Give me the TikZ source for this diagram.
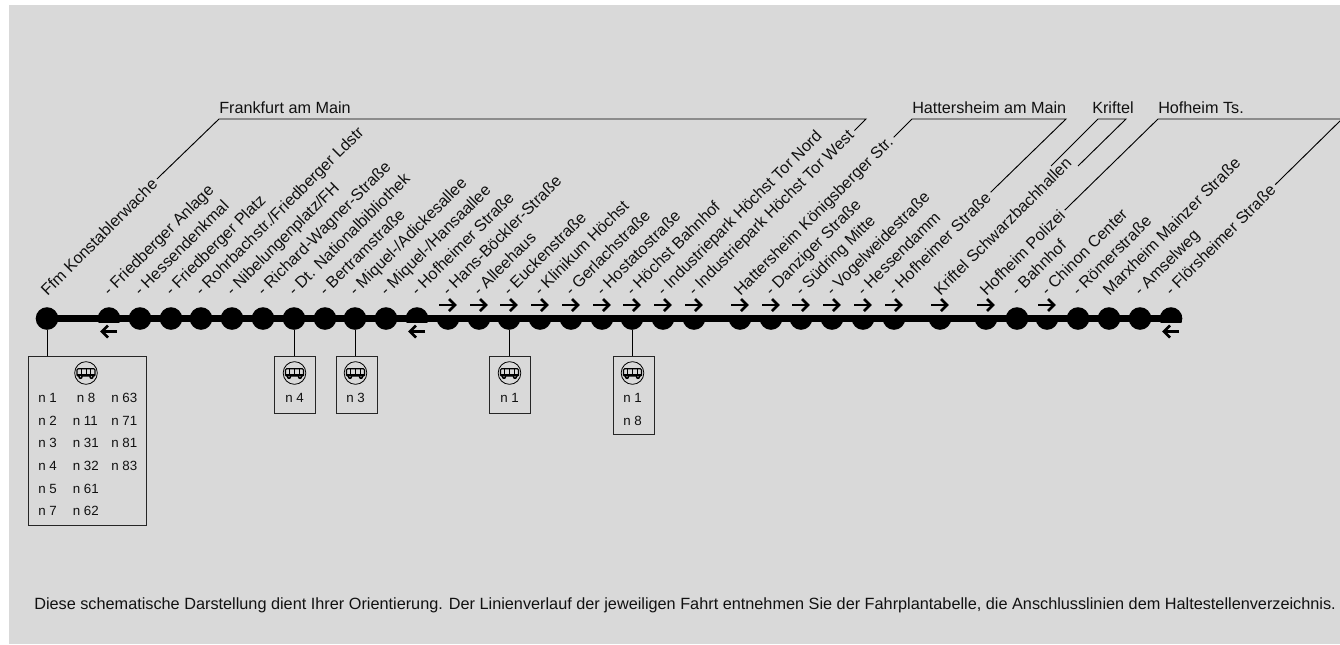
\documentclass[tikz,border=0pt]{standalone}
\usepackage{fontspec}
\setmainfont{Liberation Sans}
\definecolor{bgc}{HTML}{D9D9D9}
\definecolor{ink}{HTML}{111111}
\newcommand{\sz}[1]{\fontsize{#1}{#1}\selectfont}
\tikzset{
  stopdot/.style={circle,fill=black,inner sep=0pt,minimum size=16.95pt},
  stoplabel/.style={rotate=45,anchor=base west,inner sep=0pt,font=\sz{12.15pt},text=ink},
  regionlabel/.style={anchor=base west,inner sep=0pt,font=\sz{12.15pt},text=ink},
  linetxt/.style={anchor=base west,inner sep=0pt,font=\sz{10pt},text=ink},
  leader/.style={draw=black,line width=0.7pt,line join=miter},
  bracket/.style={leader,shorten <=2.5pt,shorten >=2.5pt},
  busbox/.style={draw=black!85,line width=0.8pt,inner sep=0pt,anchor=north west},
  dirarrow/.style={draw=black,line width=1.9pt},
  busicon/.pic={
    \draw[black,line width=0.6pt] (0,0) circle (8.5pt);
    \draw[black,line width=0.9pt,rounded corners=0.8pt] (-9,-4.2) rectangle (9,3);
    \fill[black] (-9,0.8) rectangle (9,3);
    \draw[black,line width=0.5pt] (-4.8,-4) -- (-4.8,1) (0,-4) -- (0,1) (4.8,-4) -- (4.8,1);
    \fill[black] (-5.5,3.8) circle (1.7pt) (5.5,3.8) circle (1.7pt);
    \fill[bgc] (-5.5,3.8) circle (0.5pt) (5.5,3.8) circle (0.5pt);
  },
}
\begin{document}
\begin{tikzpicture}[x=0.75pt,y=-0.75pt]
\useasboundingbox (0,0) rectangle (1340,644);
\fill[bgc] (9,5) rectangle (1340,644);

% stop labels
\foreach \i/\x/\t in {
 1/47/{Ffm Konstablerwache},
 2/109/{- Friedberger Anlage},
 3/140/{- Hessendenkmal},
 4/171/{- Friedberger Platz},
 5/201/{- Rohrbachstr./Friedberger Ldstr},
 6/232/{- Nibelungenplatz/FH},
 7/263/{- Richard-Wagner-Straße},
 8/294/{- Dt. Nationalbibliothek},
 9/325/{- Bertramstraße},
 10/355/{- Miquel-/Adickesallee},
 11/386/{- Miquel-/Hansaallee},
 12/417/{- Hofheimer Straße},
 13/448/{- Hans-Böckler-Straße},
 14/479/{- Alleehaus},
 15/509/{- Euckenstraße},
 16/540/{- Klinikum Höchst},
 17/571/{- Gerlachstraße},
 18/602/{- Hostatostraße},
 19/632/{- Höchst Bahnhof},
 20/663/{- Industriepark Höchst Tor Nord},
 21/694/{- Industriepark Höchst Tor West},
 22/740/{Hattersheim Königsberger Str.},
 23/771/{- Danziger Straße},
 24/801/{- Südring Mitte},
 25/832/{- Vogelweidestraße},
 26/863/{- Hessendamm},
 27/894/{- Hofheimer Straße},
 28/940/{Kriftel Schwarzbachhallen},
 29/986/{Hofheim Polizei},
 30/1017/{- Bahnhof},
 31/1047/{- Chinon Center},
 32/1078/{- Römerstraße},
 33/1109/{Marxheim Mainzer Straße},
 34/1140/{- Amselweg},
 35/1171/{- Flörsheimer Straße}}
 {\node[stoplabel] (l\i) at (\x+0.5,296.5) {\t};}

% region labels
\node[regionlabel] (fra) at (219,113.5) {Frankfurt am Main};
\node[regionlabel] (hat) at (912,113.5) {Hattersheim am Main};
\node[regionlabel] (kri) at (1092,113.5) {Kriftel};
\node[regionlabel] (hof) at (1158,113.5) {Hofheim Ts.};

% leaders
\coordinate (fraL) at (219,119);
\coordinate (fraR) at (866,119);
\coordinate (hatL) at (912,119);
\coordinate (hatR) at (1066,119);
\coordinate (kriL) at (1098,119);
\coordinate (kriR) at (1126,119);
\coordinate (kriA) at (1051,166);
\coordinate (kriB) at (1078,166);
\coordinate (hofL) at (1158,119);
\coordinate (hofR) at (1342,119);
\draw[bracket] (l1.east) -- (fraL) -- (fraR) -- (l21.east);
\draw[bracket] (l22.east) -- (hatL) -- (hatR) -- (l27.east);
\draw[leader] (kriA) -- (kriL) -- (kriR) -- (kriB);
\draw[bracket] (l29.east) -- (hofL) -- (hofR) -- (l35.east);

% stops
\foreach \i/\x in {1/47,3/140,4/171,5/201,6/232,7/263,8/294,9/325,10/355,11/386,30/1017,32/1078,33/1109,34/1140}
 {\node[stopdot] (s\i) at (\x,318.5) {};}
\foreach \i/\x in {13/448,14/479,15/509,16/540,17/571,18/602,19/632,20/663,21/694,22/740,23/771,24/801,25/832,26/863,27/894,28/940,29/986,31/1047}
 {\begin{scope}
   \clip (\x-13,315) rectangle (\x+13,332);
   \node[stopdot] (s\i) at (\x,318.5) {};
  \end{scope}
  \draw[dirarrow] (\x-9,305) -- (\x+6,305);
  \draw[dirarrow] (\x+1,299) -- (\x+7,305) -- (\x+1,311);}
\foreach \i/\x in {2/109,12/417,35/1171}
 {\begin{scope}
   \clip (\x-13,305) rectangle (\x+13,322);
   \node[stopdot] (s\i) at (\x,318.5) {};
  \end{scope}
  \draw[dirarrow] (\x+8,331.5) -- (\x-6,331.5);
  \draw[dirarrow] (\x-1,325.5) -- (\x-7,331.5) -- (\x-1,337.5);}
\fill[black] (s1.center) ++(0,-3.5) rectangle (1182,322);

% bus boxes
\node[busbox,minimum width=88.5pt,minimum height=126.75pt] (b1) at (28,356) {};
\node[busbox,minimum width=31pt,minimum height=42.75pt] (b2) at (274,356) {};
\node[busbox,minimum width=31pt,minimum height=42.75pt] (b3) at (335.5,356) {};
\node[busbox,minimum width=31pt,minimum height=42.75pt] (b4) at (489,356) {};
\node[busbox,minimum width=31pt,minimum height=58.5pt] (b5) at (612.5,356) {};
\draw[leader] (s1) -- (s1 |- b1.north);
\draw[leader] (s8) -- (s8 |- b2.north);
\draw[leader] (s10) -- (s10 |- b3.north);
\draw[leader] (s15) -- (s15 |- b4.north);
\draw[leader] (s19) -- (s19 |- b5.north);
\path (86,373) pic {busicon};
\path (294.5,373) pic {busicon};
\path (355.5,373) pic {busicon};
\path (509.5,373) pic {busicon};
\path (632.5,373) pic {busicon};

% line numbers
\foreach \k/\x/\y/\t in {
 a/38/402/n 1, b/38/425/n 2, c/38/447/n 3, d/38/470/n 4, e/38/493/n 5, f/38/515/n 7,
 g/76.5/402/n 8, h/72.5/425/n 11, i/72.5/447/n 31, j/72.5/470/n 32, k/72.5/493/n 61, l/72.5/515/n 62,
 m/111/402/n 63, n/111/425/n 71, o/111/447/n 81, p/111/470/n 83,
 q/285/402/n 4, r/346/402/n 3, s/500/402/n 1, t/623/402/n 1, u/623/425/n 8}
 {\node[linetxt] (n\k) at (\x,\y) {\t};}

% footer
\node[anchor=base west,inner sep=0pt,font=\sz{12.2pt},text=ink] (foot) at (34,609) {Diese schematische Darstellung dient Ihrer Orientierung. Der Linienverlauf der jeweiligen Fahrt entnehmen Sie der Fahrplantabelle, die Anschlusslinien dem Haltestellenverzeichnis.};
\end{tikzpicture}
\end{document}
